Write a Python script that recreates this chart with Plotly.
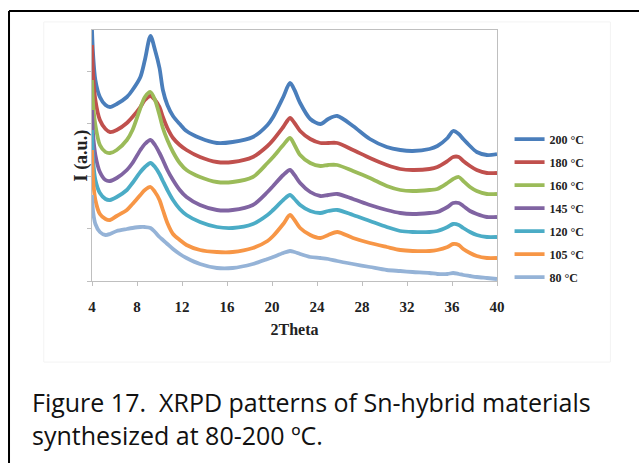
import plotly.graph_objects as go

# Diffraction angle grid (degrees 2θ)
two_theta = [4.0, 4.1, 4.3, 4.7, 5.2, 5.6, 6.2, 7.1, 7.6, 8.3, 8.7, 9.2, 9.6, 10.0,
             10.3, 10.7, 11.2, 11.8, 12.4, 13.6, 15.1, 16.5, 18.3, 19.6, 20.1, 21.0,
             21.6, 22.0, 22.5, 23.4, 24.3, 25.0, 25.8, 27.2, 28.7, 30.2, 31.4, 32.5,
             34.0, 34.7, 35.6, 36.1, 36.6, 37.0, 37.6, 38.2, 39.1, 40.0]

# Offset intensities (a.u.) for each synthesis temperature
i_200 = [251, 226, 201, 184, 176, 174, 177, 184, 191, 204, 221, 245, 231, 213, 191, 176,
         165, 157, 150, 143, 138, 139, 144, 156, 164, 184, 198, 191, 178, 162, 157, 162,
         165, 155, 142, 134, 131, 130, 132, 135, 143, 150, 147, 142, 135, 129, 126, 127]
i_180 = [236, 206, 181, 161, 152, 149, 151, 158, 164, 174, 181, 185, 181, 174, 164, 153,
         143, 136, 131, 124, 119, 119, 124, 135, 141, 154, 163, 158, 150, 142, 138, 138,
         138, 131, 123, 116, 112, 111, 112, 114, 120, 124, 124, 120, 115, 111, 108, 108]
i_160 = [201, 176, 156, 136, 129, 128, 131, 141, 151, 173, 184, 189, 181, 166, 153, 141,
         129, 118, 111, 104, 99, 99, 104, 118, 124, 136, 143, 136, 126, 118, 115, 116,
         116, 110, 103, 95, 91, 90, 91, 92, 98, 102, 104, 100, 94, 90, 87, 87]
i_145 = [171, 146, 126, 109, 101, 100, 103, 111, 118, 131, 137, 141, 136, 128, 121, 111,
         101, 91, 84, 76, 71, 71, 76, 89, 95, 106, 111, 106, 98, 89, 85, 86,
         87, 82, 76, 71, 68, 67, 68, 69, 74, 78, 78, 75, 70, 67, 64, 64]
i_120 = [151, 121, 101, 88, 82, 81, 84, 91, 98, 109, 114, 118, 114, 107, 100, 91,
         81, 72, 66, 59, 54, 53, 57, 66, 71, 81, 86, 82, 76, 70, 68, 70,
         71, 66, 60, 54, 50, 49, 49, 50, 54, 57, 56, 53, 49, 46, 44, 44]
i_105 = [131, 101, 81, 67, 62, 61, 65, 71, 77, 86, 91, 94, 89, 81, 71, 58,
         47, 41, 36, 31, 29, 29, 33, 40, 45, 57, 66, 61, 53, 46, 43, 46,
         49, 43, 38, 34, 31, 30, 30, 31, 34, 37, 36, 32, 28, 25, 23, 23]
i_80 = [86, 69, 57, 49, 46, 47, 50, 52, 53, 54, 54, 53, 49, 44, 41, 37,
        32, 27, 23, 17, 13, 13, 17, 22, 24, 28, 30, 29, 27, 24, 23, 22,
        20, 17, 14, 11, 10, 9, 8, 7, 7, 8, 7, 6, 5, 4, 3, 2]

series_labels = ["200 °C", "180 °C", "160 °C", "145 °C", "120 °C", "105 °C", "80 °C"]
series_values = [i_200, i_180, i_160, i_145, i_120, i_105, i_80]
series_colors = ["#4A7EBB", "#C0504D", "#9BBB59", "#8064A2", "#4BACC6", "#F79646", "#95B3D7"]

x_ticks = [4, 8, 12, 16, 20, 24, 28, 32, 36, 40]

caption_lines = ["Figure 17.  XRPD patterns of Sn-hybrid materials",
                 "synthesized at 80-200 ºC."]

serif = "Liberation Serif"
axis_grey = "#BFBFBF"
text_dark = "#222222"

fig = go.Figure()
for label, values, color in zip(series_labels, series_values, series_colors):
    fig.add_trace(go.Scatter(
        x=two_theta, y=values, mode="lines", name=label, legendgroup=label,
        line=dict(color=color, width=3.8, shape="spline", smoothing=0.8),
        hoverinfo="skip",
    ))

fig.update_layout(
    width=639, height=463,
    margin=dict(l=92, r=142, t=30, b=182),
    paper_bgcolor="white", plot_bgcolor="white",
    showlegend=True,
    legend=dict(
        x=1.031, xanchor="left", y=0.29, yanchor="middle",
        font=dict(family=serif, size=12, color=text_dark, weight="bold"),
        traceorder="grouped", tracegroupgap=4,
        itemwidth=30, bgcolor="rgba(0,0,0,0)",
    ),
    xaxis=dict(
        range=[4, 40], tickvals=x_ticks, showgrid=False, zeroline=False,
        showline=True, linecolor=axis_grey, linewidth=1, mirror=True,
        ticks="outside", ticklen=4, tickcolor=axis_grey, ticklabelstandoff=8,
        tickfont=dict(family=serif, size=15, color=text_dark, weight="bold"),
        title=dict(text="2Theta", standoff=9,
                   font=dict(family=serif, size=16, color=text_dark, weight="bold")),
    ),
    yaxis=dict(
        range=[0, 251], tick0=0, dtick=52.5, showticklabels=False,
        showgrid=False, zeroline=False,
        showline=True, linecolor=axis_grey, linewidth=1, mirror=True,
        ticks="outside", ticklen=4, tickcolor=axis_grey,
    ),
    font=dict(family=serif),
)

# Vertical intensity label beside the y axis
fig.add_annotation(
    xref="paper", yref="paper", x=-0.025, y=0.5, xanchor="center", yanchor="middle",
    text="I (a.u.)", textangle=-90, showarrow=False,
    font=dict(family=serif, size=18, color=text_dark, weight="bold"),
)

# Faint chart-area outline and the black frame around the figure panel
fig.add_shape(type="rect", xref="paper", yref="paper",
              x0=-0.119, x1=1.28, y0=-0.323, y1=1.032,
              line=dict(color="#F3F3F3", width=1), layer="below")
fig.add_shape(type="line", xref="paper", yref="paper",
              x0=-0.2049, x1=1.7, y0=1.0757, y1=1.0757,
              line=dict(color="black", width=2))
fig.add_shape(type="line", xref="paper", yref="paper",
              x0=-0.2049, x1=-0.2049, y0=1.0757, y1=-0.8,
              line=dict(color="black", width=2))

# Two-line figure caption
fig.add_annotation(
    xref="paper", yref="paper", x=-0.153, y=-0.406, xanchor="left", yanchor="top",
    align="left", showarrow=False, text="<br>".join(caption_lines),
    font=dict(family="Open Sans", size=25, color="#111111"),
)

fig.write_html("out.html")
